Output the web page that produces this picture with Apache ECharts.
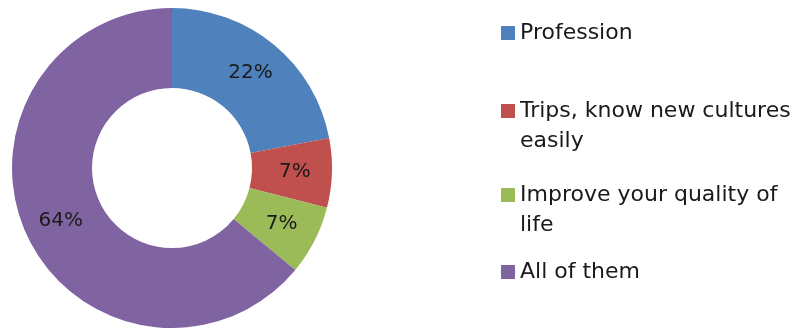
<!DOCTYPE html>
<html><head><meta charset="utf-8">
<script src="https://cdn.jsdelivr.net/npm/echarts@6/dist/echarts.min.js"></script>
<style>html,body{margin:0;padding:0;background:#fff}#c{width:797px;height:330px}</style>
</head><body><div id="c"></div>
<script>
const categories = ['Profession', 'Trips, know new cultures easily', 'Improve your quality of life', 'All of them'];
const legendLabels = ['Profession', 'Trips, know new cultures\neasily', 'Improve your quality of\nlife', 'All of them'];
const values = [22, 7, 7, 64];
const colors = ['#4F81BD', '#C0504D', '#9BBB59', '#8064A2'];

const FONT = 'DejaVu Sans';
const iconCenters = [33, 111, 195, 272];
const legends = categories.map((name, i) => {
  const twoLine = legendLabels[i].indexOf('\n') >= 0;
  // a leading empty line keeps the marker level with the first text line
  const text = twoLine ? '\n' + legendLabels[i] : legendLabels[i];
  return {
    orient: 'vertical',
    left: 501,
    top: iconCenters[i] - (twoLine ? 45 : 15),
    padding: 0,
    itemWidth: 14,
    itemHeight: 14,
    icon: 'rect',
    selectedMode: false,
    formatter: () => text,
    textStyle: { fontFamily: FONT, fontSize: 22, color: '#1a1a1a', lineHeight: 30 },
    data: [name]
  };
});

const chart = echarts.init(document.getElementById('c'));
chart.setOption({
  animation: false,
  color: colors,
  legend: legends,
  series: [{
    type: 'pie',
    center: [172, 168],
    radius: [80, 160],
    startAngle: 90,
    clockwise: true,
    label: { show: true, position: 'inside', formatter: '{c}%', fontFamily: FONT, fontSize: 20, color: '#1a1a1a' },
    labelLine: { show: false },
    emphasis: { disabled: true },
    data: categories.map((n, i) => ({ name: n, value: values[i] }))
  }]
});
</script></body></html>
